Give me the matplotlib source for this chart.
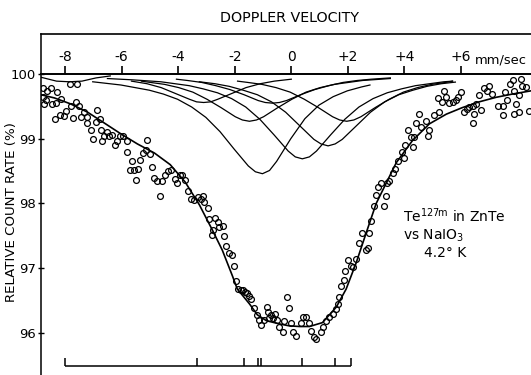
import matplotlib
matplotlib.use('Agg')
import matplotlib.pyplot as plt

plt.rcParams['font.family'] = ['DejaVu Sans']

# measured points (velocity mm/sec, relative count rate %)
vel = [-8.76, -8.62, -8.48, -8.29, -8.76, -8.68, -8.74, -8.45, -8.33, -8.15,
       -8.36, -8.17, -8.03, -7.97, -7.80, -7.62, -7.50, -7.70, -7.44, -7.33,
       -7.23, -7.21, -7.09, -7.00, -6.86, -6.76, -6.91, -6.71, -6.68, -6.62,
       -6.50, -6.44, -6.33, -6.24, -6.15, -6.05, -5.94, -5.82, -5.80, -5.62,
       -5.71, -5.56, -5.41, -5.49, -5.35, -5.23, -5.15, -5.09, -4.99, -4.94,
       -4.85, -4.73, -4.58, -4.64, -4.46, -4.36, -4.24, -4.12, -4.03, -3.93,
       -3.85, -3.77, -7.84, -7.56,
       -3.66, -3.55, -3.43, -3.31, -3.19, -3.13, -3.07, -2.96, -2.90, -2.70,
       -2.60, -2.54, -2.43, -2.78, -2.81, -2.37, -2.31, -2.19, -2.10, -2.01,
       -1.95, -1.87, -1.78, -1.70, -1.63, -1.57, -1.51, -1.42, -1.31, -1.23,
       -1.13, -1.07, -0.95, -0.86, -0.81, -0.72, -0.64, -0.57, -0.51, -0.42,
       -0.25, -0.31, -0.15, -0.09, -0.01, 0.07, 0.17, -0.78,
       0.34, 0.40, 0.52, 0.61, 0.70, 0.81, 0.87, 1.05, 1.11, 1.23,
       1.34, 1.46, 1.58, 1.64, 1.70, 1.76, 1.85, 1.91, 1.99, 2.11,
       2.19, 2.29, 2.38, 2.50, 2.64, 2.70, 2.76, 2.82, 2.91, 2.99,
       3.05, 3.17, 3.29, 3.35, 3.40, 3.46, 3.58, 3.67, 3.76, 3.93, 3.99,
       4.03, 4.11, 4.23, 4.29, 4.35, 4.41, 4.52, 4.60, 4.76, 4.82,
       4.88, 5.05, 5.23, 5.17, 5.33, 5.41, 5.47, 5.58, 5.70, 5.82,
       5.91, 6.00, 6.11, 6.20, 6.29, 6.41, 6.47, 6.44, 6.53, 6.62,
       6.70, 6.82, 6.90, 7.00, 7.11, 7.29, 7.47, 7.49, 7.64, 7.56,
       7.73, 7.82, 7.88, 7.88, 7.94, 8.06, 8.06, 8.12, 8.17, 8.29, 8.39]
rate = [99.78, 99.73, 99.78, 99.72, 99.64, 99.60, 99.54, 99.53, 99.55, 99.61,
        99.31, 99.37, 99.35, 99.43, 99.51, 99.56, 99.51, 99.32, 99.33, 99.41,
        99.33, 99.24, 99.13, 99.00, 99.44, 99.30, 99.26, 99.13, 98.97, 99.05,
        99.10, 99.05, 99.06, 98.90, 98.97, 99.05, 99.04, 98.97, 98.79, 98.65,
        98.51, 98.51, 98.53, 98.37, 98.67, 98.78, 98.82, 98.98, 98.77, 98.56,
        98.39, 98.34, 98.34, 98.12, 98.44, 98.50, 98.52, 98.38, 98.31, 98.44,
        98.44, 98.36, 99.84, 99.85,
        98.20, 98.07, 98.06, 98.10, 98.07, 98.12, 98.03, 97.93, 97.76, 97.77,
        97.72, 97.63, 97.65, 97.59, 97.52, 97.50, 97.34, 97.24, 97.21, 97.03,
        96.81, 96.68, 96.67, 96.67, 96.64, 96.62, 96.57, 96.52, 96.38, 96.28,
        96.20, 96.13, 96.20, 96.40, 96.32, 96.28, 96.23, 96.30, 96.20, 96.10,
        96.19, 96.01, 96.55, 96.39, 96.16, 96.01, 95.96, 96.23,
        96.15, 96.25, 96.25, 96.15, 96.03, 95.94, 95.90, 96.01, 96.10, 96.19,
        96.25, 96.30, 96.37, 96.44, 96.56, 96.72, 96.82, 96.96, 97.12, 97.03,
        97.02, 97.14, 97.39, 97.55, 97.28, 97.31, 97.54, 97.73, 97.96, 98.13,
        98.26, 98.32, 97.96, 98.12, 98.31, 98.35, 98.47, 98.54, 98.65, 98.80, 98.70,
        98.91, 99.14, 99.03, 98.87, 99.02, 99.25, 99.38, 99.18, 99.28, 99.05,
        99.13, 99.37, 99.42, 99.63, 99.56, 99.74, 99.65, 99.55, 99.56, 99.60,
        99.65, 99.72, 99.41, 99.46, 99.49, 99.51, 99.38, 99.24, 99.54, 99.67,
        99.44, 99.79, 99.74, 99.82, 99.69, 99.51, 99.51, 99.37, 99.60, 99.72,
        99.85, 99.90, 99.73, 99.38, 99.54, 99.42, 99.67, 99.92, 99.82, 99.80, 99.43]

# fitted curve
fit_v = [-8.85, -8.37, -7.81, -7.2, -6.6, -6.04, -5.44, -4.84, -4.28, -3.75,
         -3.25, -2.79, -2.44, -2.08, -1.91, -1.48, -1.2, -0.88, -0.42, -0.07,
         0.3, 0.64, 1.10, 1.59, 1.94, 2.29, 2.65, 3.0, 3.36, 3.71,
         4.28, 4.88, 5.48, 6.04, 6.64, 7.24, 7.81, 8.47]
fit_y = [99.68, 99.63, 99.54, 99.41, 99.24, 99.08, 98.92, 98.78, 98.60, 98.33,
         97.98, 97.59, 97.28, 96.88, 96.68, 96.45, 96.28, 96.19, 96.14, 96.11,
         96.10, 96.10, 96.16, 96.40, 96.68, 97.08, 97.55, 98.0, 98.32, 98.63,
         98.97, 99.23, 99.38, 99.48, 99.57, 99.64, 99.69, 99.74]

# individual component lines
c1_v = [-8.85, -8.3, -7.85, -7.4, -6.9, -6.4]
c1_y = [99.95, 99.89, 99.88, 99.89, 99.94, 99.97]
c2_v = [-7.02, -6.02, -5.02, -4.52, -4.02, -3.52, -3.02, -2.52, -2.02, -1.52,
        -1.27, -1.02, -0.77, -0.52, -0.02, 0.48, 0.98, 1.48, 1.98, 2.48, 2.78]
c2_y = [99.88, 99.83, 99.75, 99.69, 99.61, 99.49, 99.33, 99.11, 98.84, 98.58,
        98.49, 98.46, 98.51, 98.65, 99.00, 99.31, 99.52, 99.65, 99.74, 99.80, 99.83]
c3_v = [-5.3, -4.98, -4.48, -3.98, -3.48, -2.98, -2.48, -1.98, -1.73, -1.48,
        -1.23, -0.98, -0.48, 0.02, 0.52, 1.02, 1.52, 2.02, 2.52, 3.5]
c3_y = [99.89, 99.87, 99.84, 99.79, 99.72, 99.61, 99.48, 99.34, 99.29, 99.27,
        99.29, 99.34, 99.48, 99.61, 99.72, 99.79, 99.84, 99.87, 99.90, 99.93]
c4_v = [-5.65, -5.1, -4.6, -4.1, -3.6, -3.35, -3.1, -2.85, -2.6, -2.1,
        -1.6, -1.1, -0.6, 0.0]
c4_y = [99.89, 99.85, 99.79, 99.70, 99.61, 99.57, 99.56, 99.57, 99.61, 99.70,
        99.79, 99.85, 99.89, 99.92]
c5_v = [-4.06, -3.67, -3.17, -2.67, -2.17, -1.67, -1.17, -0.92, -0.67, -0.42,
        -0.17, 0.33, 0.83, 1.33, 1.83, 2.33, 2.83, 3.5]
c5_y = [99.92, 99.90, 99.87, 99.82, 99.76, 99.68, 99.59, 99.56, 99.55, 99.56,
        99.59, 99.68, 99.76, 99.82, 99.87, 99.90, 99.92, 99.94]
c6_v = [-6.5, -5.61, -4.61, -3.61, -3.11, -2.61, -2.11, -1.61, -1.11, -0.61,
        -0.11, 0.14, 0.39, 0.64, 0.89, 1.39, 1.89, 2.39, 2.89, 3.39,
        3.89, 4.39, 5.39, 5.7]
c6_y = [99.93, 99.91, 99.88, 99.82, 99.77, 99.71, 99.62, 99.49, 99.30, 99.06,
        98.81, 98.72, 98.69, 98.72, 98.81, 99.06, 99.30, 99.49, 99.62, 99.71,
        99.77, 99.82, 99.88, 99.89]
c7_v = [-3.25, -2.7, -2.2, -1.7, -1.2, -0.7, -0.2, 0.3, 0.8, 1.05,
        1.3, 1.55, 1.8, 2.3, 2.8, 3.3, 3.8, 4.3, 4.8, 5.3, 5.8]
c7_y = [99.88, 99.85, 99.81, 99.75, 99.68, 99.57, 99.41, 99.20, 98.99, 98.92,
        98.89, 98.92, 98.99, 99.20, 99.41, 99.57, 99.68, 99.75, 99.81, 99.85, 99.875]
c8_v = [-1.9, -1.54, -1.04, -0.54, -0.04, 0.46, 0.96, 1.46, 1.71, 1.96,
        2.21, 2.46, 2.96, 3.46, 3.96, 4.46, 4.96, 5.46, 5.7]
c8_y = [99.89, 99.87, 99.84, 99.79, 99.72, 99.61, 99.48, 99.34, 99.29, 99.27,
        99.29, 99.34, 99.48, 99.61, 99.72, 99.79, 99.84, 99.87, 99.89]

# line positions marked at the bottom
stick_v = [-8.0, -3.33, -1.67, -1.18, -1.07, 0.38, 1.54, 2.11]

vel_ticks = [-8, -6, -4, -2, 0, 2, 4, 6]
vel_labels = ['-8', '-6', '-4', '-2', '0', '+2', '+4', '+6']
rate_ticks = [96, 97, 98, 99, 100]
rate_labels = ['96', '97', '98', '99', '100']

fig = plt.figure(figsize=(5.31, 3.75), dpi=100)
ax = fig.add_axes([41 / 531, 0.0, 490 / 531, 341 / 375])
ax.set_xlim(-8.848, 8.473)
ax.set_ylim(95.351, 100.618)

components = [(c1_v, c1_y), (c2_v, c2_y), (c3_v, c3_y), (c4_v, c4_y),
              (c5_v, c5_y), (c6_v, c6_y), (c7_v, c7_y), (c8_v, c8_y)]
for cv, cy in components:
    ax.plot(cv, cy, color='black', lw=0.9)

ax.plot(fit_v, fit_y, color='black', lw=1.2)
ax.plot(vel, rate, 'o', ls='none', mfc='none', mec='black', ms=4.2, mew=0.9)

# stick diagram
ax.hlines(95.49, stick_v[0], stick_v[-1], color='black', lw=1.1)
ax.vlines(stick_v, 95.49, 95.615, color='black', lw=1.1)

# velocity axis sits on the 100% line
ax.spines['top'].set_position(('data', 100))
ax.spines['top'].set_linewidth(1.4)
ax.spines['right'].set_visible(False)
ax.spines['bottom'].set_visible(False)
ax.spines['left'].set_linewidth(1.1)
ax.plot([0, 1], [1, 1], transform=ax.transAxes, clip_on=False,
        color='black', lw=1.2)

ax.xaxis.tick_top()
ax.set_xticks(vel_ticks)
ax.set_xticklabels(vel_labels)
ax.tick_params(axis='x', direction='out', length=6, width=1.2, pad=1.5,
               labelsize=10)
ax.text(6.5, 100.216, 'mm/sec', ha='left', va='center', fontsize=9.4,
        clip_on=False)

ax.set_yticks(rate_ticks)
ax.set_yticklabels(rate_labels)
ax.tick_params(axis='y', direction='inout', length=5, width=1, pad=1,
               labelsize=9.5)

fig.text(290 / 531, 1 - 17.5 / 375, 'DOPPLER VELOCITY', ha='center',
         va='center', fontsize=10.3)
fig.text(12 / 531, 1 - 212 / 375, 'RELATIVE COUNT RATE (%)', rotation=90,
         ha='center', va='center', fontsize=9.6)

ax.text(3.95, 97.714, r'$\mathregular{Te^{127m}}$ in ZnTe', fontsize=10,
        va='baseline')
ax.text(3.95, 97.436, r'vs $\mathregular{NaIO_3}$', fontsize=10,
        va='baseline')
ax.text(5.43, 97.174, '4.2° K', fontsize=10, ha='center', va='baseline')

fig.savefig('out.png', dpi=100)
